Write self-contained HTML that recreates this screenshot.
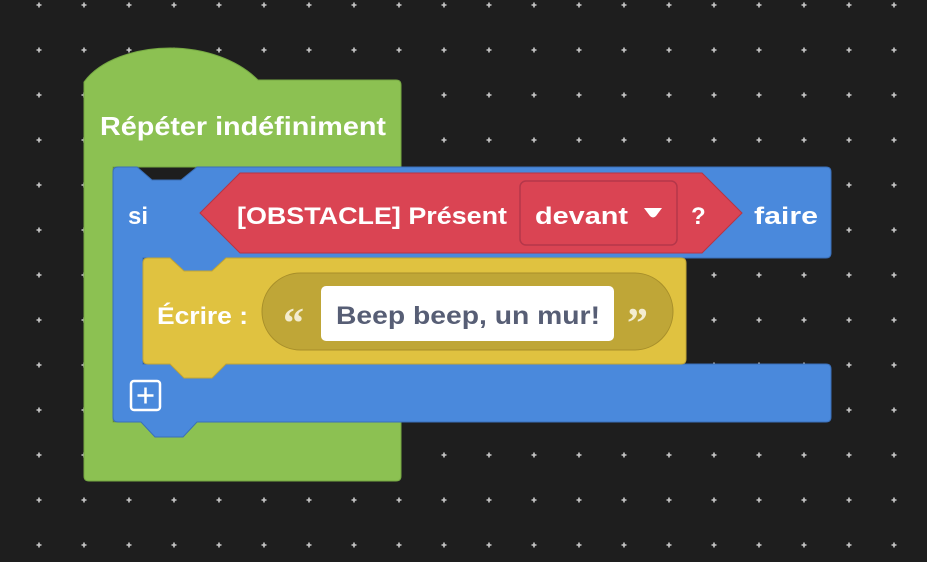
<!DOCTYPE html>
<html><head><meta charset="utf-8"><style>
html,body{margin:0;padding:0;background:#1e1e1e;}
svg{display:block}
text{font-family:"Liberation Sans",sans-serif;font-weight:bold;}
</style></head><body>
<svg width="927" height="562" viewBox="0 0 927 562" xmlns="http://www.w3.org/2000/svg">
<defs>
<pattern id="dots" x="34" y="0" width="45" height="45" patternUnits="userSpaceOnUse">
<path d="M5 2.5v5M2.5 5h5" stroke="#c8c8c8" stroke-width="1.6"/>
</pattern>
</defs>
<rect width="927" height="562" fill="#1e1e1e"/>
<rect width="927" height="562" fill="url(#dots)"/>

<!-- green repeat block -->
<path d="M84 82 C100 60 135 48 170 48 C205 48 238 60 258 80 L396 80 Q401 80 401 85 L401 167 L113 167 L113 422 L401 422 L401 476 Q401 481 396 481 L89 481 Q84 481 84 476 Z" fill="#8cc152" stroke="#76a843" stroke-width="1"/>
<text x="100" y="135" font-size="26" fill="#fff" textLength="286" lengthAdjust="spacingAndGlyphs">Répéter indéfiniment</text>

<!-- blue if block -->
<path d="M118 167 L137 167 L152 180 L181 180 L197 167 L826 167 Q831 167 831 172 L831 253 Q831 258 826 258 L226 258 L212 271 L184 271 L170 258 L143 258 L143 364 L170 364 L184 378 L212 378 L226 364 L826 364 Q831 364 831 369 L831 417 Q831 422 826 422 L197 422 L183 437 L155 437 L141 422 L118 422 Q113 422 113 417 L113 172 Q113 167 118 167 Z" fill="#4a89dc" stroke="#3a6fb8" stroke-width="1"/>
<text x="128" y="224" font-size="24" fill="#fff">si</text>
<text x="754" y="224" font-size="24" fill="#fff" textLength="64" lengthAdjust="spacingAndGlyphs">faire</text>

<!-- red condition -->
<path d="M240 173 L702 173 L742 213 L702 253 L240 253 L200 213 Z" fill="#da4453" stroke="#b83443" stroke-width="1"/>
<text x="237" y="224" font-size="24" fill="#fff" textLength="270" lengthAdjust="spacingAndGlyphs">[OBSTACLE] Présent</text>
<rect x="520" y="181" width="157" height="64" rx="6" fill="#da4453" stroke="#b4374a" stroke-width="1.5"/>
<text x="535" y="224" font-size="24" fill="#fff" textLength="93" lengthAdjust="spacingAndGlyphs">devant</text>
<path d="M644 208 L662 208 L656 216 Q653 219 650 216 Z" fill="#fff"/>
<text x="691" y="224" font-size="24" fill="#fff">?</text>

<!-- yellow write block -->
<path d="M148 258 L170 258 L184 271 L212 271 L226 258 L681 258 Q686 258 686 263 L686 359 Q686 364 681 364 L226 364 L212 378 L184 378 L170 364 L148 364 Q143 364 143 359 L143 263 Q143 258 148 258 Z" fill="#e0c240" stroke="#c2a535" stroke-width="1"/>
<text x="157" y="324" font-size="24" fill="#fff" textLength="91" lengthAdjust="spacingAndGlyphs">Écrire :</text>
<rect x="262" y="273" width="411" height="77" rx="38.5" fill="#bfa637" stroke="#a88f2a" stroke-width="1"/>
<text x="283" y="337" font-size="42" fill="#f3ecd0" font-family="Liberation Serif" style="font-family:'Liberation Serif',serif">“</text>
<text x="627" y="337" font-size="42" fill="#f3ecd0" style="font-family:'Liberation Serif',serif">”</text>
<rect x="321" y="286" width="293" height="55" rx="5" fill="#fff"/>
<text x="336" y="324" font-size="25" fill="#575e75" textLength="264" lengthAdjust="spacingAndGlyphs">Beep beep, un mur!</text>

<!-- plus icon -->
<rect x="131" y="381" width="29" height="29" rx="3" fill="none" stroke="#fff" stroke-width="2.5"/>
<path d="M145.5 387.5v16M137.5 395.5h16" stroke="#fff" stroke-width="2.5"/>
</svg>
</body></html>
